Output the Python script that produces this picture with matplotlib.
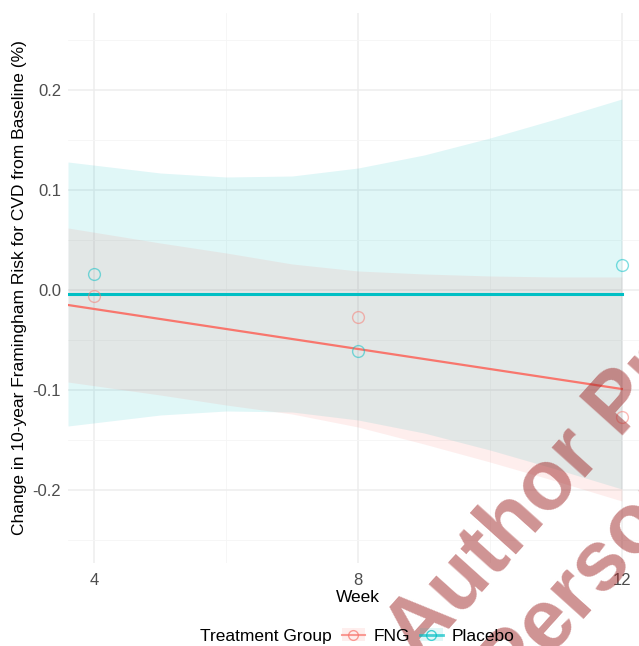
# Framingham risk change by week, FNG vs placebo (ggplot-ish look)

import numpy as np
import matplotlib.pyplot as plt
from matplotlib.patches import Patch
from matplotlib.lines import Line2D

plt.rcParams['font.family'] = ['Liberation Sans', 'DejaVu Sans']

# observed group means
weeks = [4, 8, 12]
fng_pts = [-0.006, -0.027, -0.127]
placebo_pts = [0.016, -0.061, 0.025]

# fitted lines
line_x = [3.6, 12]
fng_line = [-0.015, -0.099]
placebo_line = [-0.004, -0.004]

band_x = [3.6, 5, 6, 7, 8, 9, 10, 11, 12]
placebo_hi = [0.128, 0.117, 0.113, 0.114, 0.122, 0.135, 0.152, 0.171, 0.191]
placebo_lo = [-0.136, -0.125, -0.121, -0.122, -0.130, -0.143, -0.160, -0.179, -0.199]
fng_hi = [0.062, 0.047, 0.037, 0.026, 0.019, 0.016, 0.014, 0.013, 0.013]
fng_lo = [-0.092, -0.105, -0.115, -0.124, -0.137, -0.154, -0.172, -0.191, -0.211]

groups = ['FNG', 'Placebo']
red = '#F8766D'
cyan = '#00BFC4'
band_alpha = 0.12

fig = plt.figure(figsize=(6.39, 6.46), dpi=100)
ax = fig.add_axes([68/639, 83/646, 0.908, 0.8514])

ax.fill_between(band_x, placebo_lo, placebo_hi, color=cyan, alpha=band_alpha, lw=0)
ax.fill_between(band_x, fng_lo, fng_hi, color=red, alpha=band_alpha, lw=0)
ax.plot(line_x, fng_line, color=red, lw=1.6)
ax.plot(line_x, placebo_line, color=cyan, lw=2.2)
ax.plot(weeks, fng_pts, 'o', mfc='none', mec=red, ms=8.5, mew=1, alpha=0.5)
ax.plot(weeks, placebo_pts, 'o', mfc='none', mec=cyan, ms=8.5, mew=1, alpha=0.5)

ax.set_xlim(3.6, 12.4)
ax.set_ylim(-0.273, 0.277)
ax.set_xticks([4, 8, 12])
ax.set_xticks([6, 10], minor=True)
ax.set_yticks([-0.2, -0.1, 0.0, 0.1, 0.2])
ax.set_yticklabels(['-0.2', '-0.1', '0.0', '0.1', '0.2'])
ax.set_yticks([-0.25, -0.15, -0.05, 0.05, 0.15, 0.25], minor=True)
ax.grid(True, which='major', color='#ededed', lw=1.1)
ax.grid(True, which='minor', color='#f5f5f5', lw=0.6)
ax.set_axisbelow(True)
ax.tick_params(which='both', length=0, labelsize=12, labelcolor='#4d4d4d')
ax.tick_params(axis='x', pad=7)
ax.tick_params(axis='y', pad=5)
for s in ax.spines.values():
    s.set_visible(False)

ax.set_xlabel('Week', fontsize=12.5, labelpad=2)
ax.set_ylabel('Change in 10-year Framingham Risk for CVD from Baseline (%)', fontsize=12.5, labelpad=4)

# legend at the bottom, title on the left
fig.text(200/639, 1 - 636/646, 'Treatment Group', fontsize=12.5, va='center', ha='left')
handles = [(Patch(color=red, alpha=band_alpha, lw=0),
            Line2D([], [], color=red, lw=1.5, marker='o', mfc='none', ms=7, alpha=0.7)),
           (Patch(color=cyan, alpha=band_alpha, lw=0),
            Line2D([], [], color=cyan, lw=2, marker='o', mfc='none', ms=7, alpha=0.7))]
fig.legend(handles, groups, loc='center left', bbox_to_anchor=(342/639, 1 - 636/646),
           ncol=2, frameon=False, fontsize=12.5, handlelength=1.3, handletextpad=0.5,
           columnspacing=0.6, borderaxespad=0, borderpad=0)

# watermark over the figure
wm = dict(fontsize=61, fontweight='bold', color='#a02828', alpha=0.5, rotation=48,
          rotation_mode='anchor', ha='left', va='baseline')
fig.text(418/639, 1 - 663/646, 'Author Proof', **wm)
fig.text(510/639, 1 - 695/646, 'Personal', **wm)

fig.savefig('out.png', dpi=100)
